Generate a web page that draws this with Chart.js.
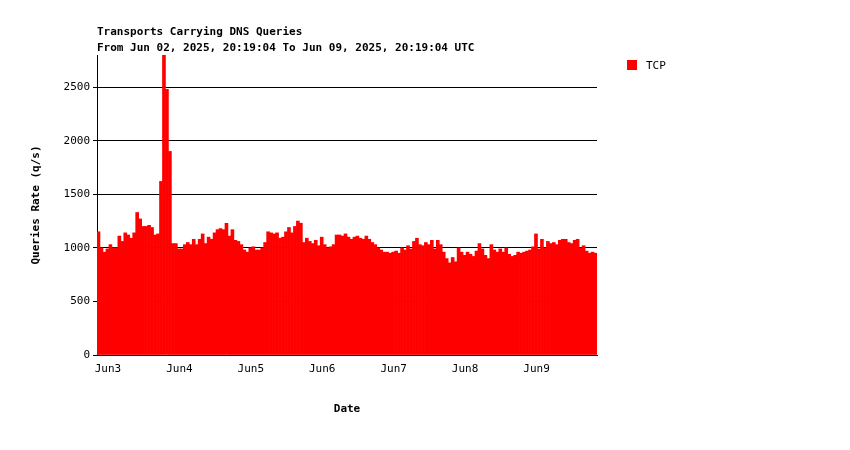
<!DOCTYPE html>
<html>
<head>
<meta charset="utf-8">
<script src="https://cdn.jsdelivr.net/npm/chart.js@4"></script>
<style>
  body { margin: 0; background: #fff; }
  #wrap { width: 850px; height: 450px; }
</style>
</head>
<body>
<div id="wrap"><canvas id="c" width="850" height="450"></canvas></div>
<script>
// hourly TCP query rate, Jun 02 20:19 -> Jun 09 20:19 UTC
const tcpValues = [
  1150, 1000, 960, 990, 1030, 1000, 1000, 1110, 1060, 1140, 1120, 1090, 1140, 1330, 1270, 1200,
  1200, 1210, 1190, 1120, 1130, 1620, 2800, 2480, 1900, 1040, 1040, 990, 990, 1030, 1050, 1030,
  1080, 1030, 1080, 1130, 1040, 1100, 1080, 1140, 1170, 1180, 1170, 1230, 1110, 1170, 1070, 1060,
  1030, 980, 960, 1000, 1010, 980, 980, 1000, 1050, 1150, 1140, 1130, 1140, 1090, 1100, 1150,
  1190, 1140, 1200, 1250, 1230, 1050, 1090, 1060, 1040, 1070, 1020, 1100, 1030, 1000, 1010, 1030,
  1120, 1120, 1110, 1130, 1100, 1080, 1100, 1110, 1090, 1080, 1110, 1080, 1050, 1030, 1000, 980,
  960, 960, 950, 960, 970, 950, 1000, 980, 1020, 990, 1060, 1090, 1030, 1020, 1050, 1030,
  1070, 990, 1070, 1030, 960, 900, 860, 910, 870, 1000, 960, 930, 960, 940, 920, 970,
  1040, 990, 930, 900, 1030, 980, 960, 990, 960, 1000, 940, 920, 930, 960, 950, 960,
  970, 980, 1010, 1130, 990, 1080, 1000, 1060, 1040, 1050, 1030, 1070, 1080, 1080, 1050, 1040,
  1070, 1080, 1000, 1020, 970, 950, 960, 950
];
const dayLabels = ['Jun3', 'Jun4', 'Jun5', 'Jun6', 'Jun7', 'Jun8', 'Jun9'];
const firstMidnight = 3.68; // hours from start to Jun 3 00:00
const yTicks = [0, 500, 1000, 1500, 2000, 2500];

const mono = 'DejaVu Sans Mono';

const overlay = {
  id: 'overlay',
  afterDraw(chart) {
    const ctx = chart.ctx;
    ctx.save();
    ctx.fillStyle = '#000';
    ctx.font = 'bold 11px ' + mono;
    ctx.textBaseline = 'middle';
    ctx.textAlign = 'left';
    ctx.fillText('Transports Carrying DNS Queries', 97, 32);
    ctx.fillText('From Jun 02, 2025, 20:19:04 To Jun 09, 2025, 20:19:04 UTC', 97, 48);
    // legend
    ctx.fillStyle = '#ff0000';
    ctx.fillRect(627, 60, 10, 10);
    ctx.fillStyle = '#000';
    ctx.font = '11px ' + mono;
    ctx.fillText('TCP', 646, 66);
    ctx.restore();
  }
};

new Chart(document.getElementById('c'), {
  type: 'bar',
  data: {
    datasets: [{
      label: 'TCP',
      data: tcpValues.map((v, i) => ({ x: i + 0.5, y: v })),
      backgroundColor: '#ff0000',
      borderWidth: 0,
      barPercentage: 1,
      categoryPercentage: 1
    }]
  },
  options: {
    responsive: false,
    animation: false,
    layout: { padding: { top: 55, right: 253, left: 26, bottom: 30 } },
    plugins: { legend: { display: false }, tooltip: { enabled: false } },
    scales: {
      x: {
        type: 'linear',
        offset: false,
        min: 0,
        max: tcpValues.length,
        afterBuildTicks: s => { s.ticks = dayLabels.map((_, k) => ({ value: firstMidnight + 24 * k })); },
        afterFit: s => { s.height = 65; },
        ticks: {
          autoSkip: false,
          maxRotation: 0,
          color: '#000',
          font: { family: mono, size: 11 },
          callback: (v, i) => dayLabels[i]
        },
        grid: { display: false, drawTicks: true, tickLength: 5, color: '#000' },
        border: { color: '#000', width: 1 },
        title: { display: true, text: 'Date', color: '#000', font: { family: mono, size: 11, weight: 'bold' } }
      },
      y: {
        min: 0,
        max: 2800,
        afterBuildTicks: s => { s.ticks = yTicks.map(v => ({ value: v })); },
        afterFit: s => { s.width = 71; },
        ticks: { color: '#000', font: { family: mono, size: 11 }, callback: v => String(v) },
        grid: { color: '#000', lineWidth: 1, drawTicks: true, tickLength: 4 },
        border: { color: '#000', width: 1 },
        title: { display: true, text: 'Queries Rate (q/s)', color: '#000', font: { family: mono, size: 11, weight: 'bold' } }
      }
    }
  },
  plugins: [overlay]
});
</script>
</body>
</html>
